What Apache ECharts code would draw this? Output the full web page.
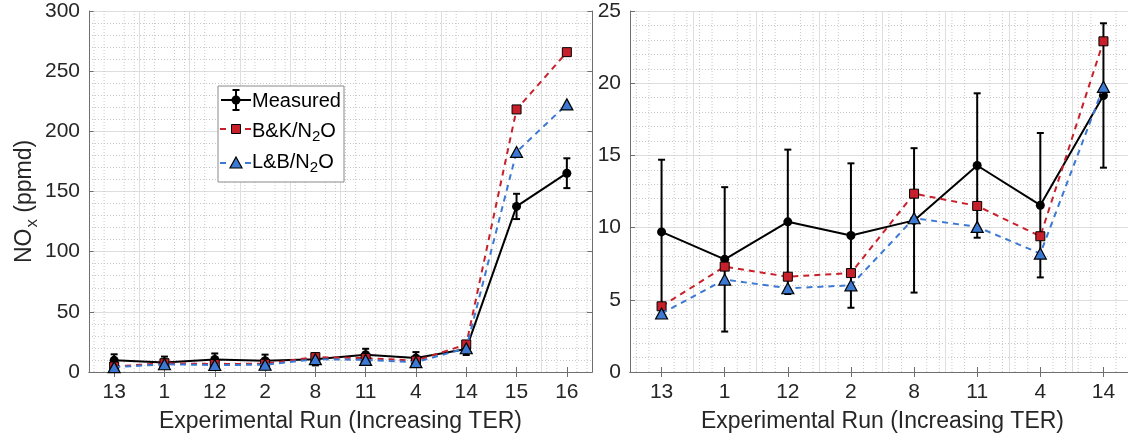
<!DOCTYPE html>
<html>
<head>
<meta charset="utf-8">
<script src="https://cdn.jsdelivr.net/npm/echarts@6/dist/echarts.min.js"></script>
<style>
  html, body { margin: 0; padding: 0; background: #fff; }
  #chart { width: 1128px; height: 440px; }
</style>
</head>
<body>
<div id="chart"></div>
<script>
// Experimental runs, ordered by increasing TER
const runs = ['13', '1', '12', '2', '8', '11', '4', '14', '15', '16'];
// NOx (ppmd) measured, with its uncertainty
const measured    = [9.7, 7.8, 10.4, 9.45, 10.5, 14.3, 11.55, 19.15, 137.6, 165.2];
const measuredErr = [5.0, 5.0, 5.0, 5.0, 5.0, 5.0, 5.0, 5.0, 10.5, 12.4];
// NOx predicted by the two N2O-route mechanisms
const bkN2O = [4.55, 7.3, 6.6, 6.85, 12.35, 11.5, 9.4, 22.9, 218.2, 265.8];
const lbN2O = [4.05, 6.4, 5.8, 6.0, 10.65, 10.05, 8.2, 19.75, 182.9, 222.4];
// right panel: close-up of the low-TER runs
const zoomCount = 8;
// y-axis ranges [max, step] for each panel
const leftY = [300, 50];
const rightY = [25, 5];

const FONT = '"Liberation Sans", Arial, Helvetica, sans-serif';
const RED = '#c8202a';
const BLUE = '#3b79d2';
const AXIS = '#6f6f6f';
const TEXT = '#262626';
const MAJOR = '#dedede';
const MINOR = '#c9c9c9';

const chart = echarts.init(document.getElementById('chart'), null, { renderer: 'canvas' });

const panels = [
  { left: 89, width: 503, n: runs.length, y: leftY },
  { left: 630, width: 505, n: zoomCount, y: rightY }
];

const grids = panels.map(p => ({
  left: p.left, top: 11, width: p.width, height: 361, outerBoundsMode: 'none'
}));

const xAxes = [];
const yAxes = [];
panels.forEach((p, gi) => {
  const cats = runs.slice(0, p.n);
  xAxes.push({
    type: 'category', gridIndex: gi, data: cats, position: 'bottom', boundaryGap: true,
    axisLine: { show: true, lineStyle: { color: AXIS, width: 1 } },
    axisTick: { show: true, inside: true, alignWithLabel: true, length: 5, lineStyle: { color: AXIS } },
    axisLabel: { fontSize: 21, color: TEXT, fontFamily: FONT, margin: 10 },
    splitLine: { show: true, lineStyle: { color: MAJOR, width: 1 } },
    name: 'Experimental Run (Increasing TER)', nameLocation: 'middle', nameGap: 38,
    nameTextStyle: { fontSize: 23, color: TEXT, fontFamily: FONT }
  });
  xAxes.push({
    type: 'category', gridIndex: gi, data: cats, position: 'top', boundaryGap: true,
    axisLine: { show: true, lineStyle: { color: AXIS, width: 1 } },
    axisTick: { show: true, inside: true, alignWithLabel: true, length: 5, lineStyle: { color: AXIS } },
    axisLabel: { show: false }, splitLine: { show: false }
  });
  const yBase = {
    type: 'value', gridIndex: gi, min: 0, max: p.y[0], interval: p.y[1],
    axisLine: { show: true, lineStyle: { color: AXIS, width: 1 } },
    axisTick: { show: true, inside: true, length: 5, lineStyle: { color: AXIS } }
  };
  yAxes.push(Object.assign({}, yBase, {
    position: 'left',
    axisLabel: { fontSize: 21, color: TEXT, fontFamily: FONT, margin: 9 },
    splitLine: { show: true, lineStyle: { color: MAJOR, width: 1 } },
    minorTick: { show: false, splitNumber: 5 },
    minorSplitLine: { show: true, lineStyle: { color: MINOR, width: 1, type: [1, 2] } },
    name: gi === 0 ? '{a|NO}{s|x}{a| (ppmd)}' : '',
    nameLocation: 'middle', nameRotate: 90, nameGap: 48,
    nameTextStyle: {
      color: TEXT, fontFamily: FONT, fontSize: 23, padding: [0, 20, 0, 0],
      rich: {
        a: { fontSize: 23, color: TEXT, fontFamily: FONT },
        s: { fontSize: 17, color: TEXT, fontFamily: FONT, padding: [16, 0, 0, 1] }
      }
    }
  }));
  yAxes.push(Object.assign({}, yBase, {
    position: 'right', axisLabel: { show: false }, splitLine: { show: false }
  }));
});

// dotted minor grid between categories (fifths of a category band)
function minorGridItem(params, api) {
  const i = api.value(0);
  const yMax = api.value(1);
  const top = api.coord([i, yMax]);
  const bot = api.coord([i, 0]);
  const band = api.size([1, 0])[0];
  const children = [-0.4, -0.2, 0.2, 0.4].map(f => ({
    type: 'line',
    shape: { x1: top[0] + f * band, y1: top[1], x2: top[0] + f * band, y2: bot[1] },
    style: { stroke: MINOR, lineWidth: 1, lineDash: [1, 2] }
  }));
  return { type: 'group', children };
}

// vertical error bar with caps
function errorBarItem(params, api) {
  const i = api.value(0);
  const v = api.value(1);
  const e = api.value(2);
  const top = api.coord([i, v + e]);
  const bot = api.coord([i, v - e]);
  const cap = 3.5;
  const st = { stroke: '#000', lineWidth: 2 };
  return {
    type: 'group',
    children: [
      { type: 'line', shape: { x1: top[0], y1: top[1], x2: bot[0], y2: bot[1] }, style: st },
      { type: 'line', shape: { x1: top[0] - cap, y1: top[1], x2: top[0] + cap, y2: top[1] }, style: st },
      { type: 'line', shape: { x1: bot[0] - cap, y1: bot[1], x2: bot[0] + cap, y2: bot[1] }, style: st }
    ]
  };
}

const series = [];
panels.forEach((p, gi) => {
  const xi = gi * 2, yi = gi * 2;
  const idx = runs.slice(0, p.n).map((r, i) => i);
  series.push({
    type: 'custom', xAxisIndex: xi, yAxisIndex: yi, silent: true, z: 1,
    renderItem: minorGridItem,
    data: idx.map(i => [i, p.y[0]])
  });
  series.push({
    name: 'Measured', type: 'line', xAxisIndex: xi, yAxisIndex: yi, z: 3,
    data: measured.slice(0, p.n),
    symbol: 'circle', symbolSize: 9,
    lineStyle: { color: '#000', width: 2 },
    itemStyle: { color: '#000' }
  });
  series.push({
    type: 'custom', xAxisIndex: xi, yAxisIndex: yi, z: 3, silent: true,
    renderItem: errorBarItem,
    data: idx.map(i => [i, measured[i], measuredErr[i]])
  });
  series.push({
    name: 'B&K/N2O', type: 'line', xAxisIndex: xi, yAxisIndex: yi, z: 4,
    data: bkN2O.slice(0, p.n),
    symbol: 'rect', symbolSize: 9,
    lineStyle: { color: RED, width: 2, type: [6, 5] },
    itemStyle: { color: RED, borderColor: '#000', borderWidth: 1 }
  });
  series.push({
    name: 'L&B/N2O', type: 'line', xAxisIndex: xi, yAxisIndex: yi, z: 5,
    data: lbN2O.slice(0, p.n),
    symbol: 'triangle', symbolSize: [12, 11],
    lineStyle: { color: BLUE, width: 2, type: [6, 5] },
    itemStyle: { color: BLUE, borderColor: '#000', borderWidth: 1.2 }
  });
});

// legend box in the left panel
const legendRich = {
  a: { fontSize: 20, color: '#000', fontFamily: FONT },
  s: { fontSize: 15, color: '#000', fontFamily: FONT, padding: [12, 0, 0, 0] }
};
const lg = { x: 218, y: 86, w: 126, h: 96, icon: 236, text: 252 };
const graphic = [
  { type: 'rect', shape: { x: lg.x, y: lg.y, width: lg.w, height: lg.h },
    style: { fill: '#fff', stroke: '#8a8a8a', lineWidth: 1 }, z: 100 },
  // Measured
  { type: 'line', shape: { x1: 221, y1: 100, x2: 251, y2: 100 }, style: { stroke: '#000', lineWidth: 2 }, z: 101 },
  { type: 'line', shape: { x1: lg.icon, y1: 90, x2: lg.icon, y2: 110 }, style: { stroke: '#000', lineWidth: 2 }, z: 101 },
  { type: 'line', shape: { x1: lg.icon - 3.5, y1: 90, x2: lg.icon + 3.5, y2: 90 }, style: { stroke: '#000', lineWidth: 2 }, z: 101 },
  { type: 'line', shape: { x1: lg.icon - 3.5, y1: 110, x2: lg.icon + 3.5, y2: 110 }, style: { stroke: '#000', lineWidth: 2 }, z: 101 },
  { type: 'circle', shape: { cx: lg.icon, cy: 100, r: 4.5 }, style: { fill: '#000' }, z: 102 },
  { type: 'text', x: lg.text, y: 101, style: { text: 'Measured', font: '20px ' + FONT, fill: '#000', verticalAlign: 'middle' }, z: 102 },
  // B&K/N2O
  { type: 'line', shape: { x1: 220, y1: 129, x2: 226, y2: 129 }, style: { stroke: RED, lineWidth: 2 }, z: 101 },
  { type: 'line', shape: { x1: 245, y1: 129, x2: 251, y2: 129 }, style: { stroke: RED, lineWidth: 2 }, z: 101 },
  { type: 'rect', shape: { x: lg.icon - 4.5, y: 124.5, width: 9, height: 9 }, style: { fill: RED, stroke: '#000', lineWidth: 1 }, z: 102 },
  { type: 'text', x: lg.text, y: 131, style: { text: '{a|B&K/N}{s|2}{a|O}', rich: legendRich, verticalAlign: 'middle' }, z: 102 },
  // L&B/N2O
  { type: 'line', shape: { x1: 220, y1: 163, x2: 226, y2: 163 }, style: { stroke: BLUE, lineWidth: 2 }, z: 101 },
  { type: 'line', shape: { x1: 245, y1: 163, x2: 251, y2: 163 }, style: { stroke: BLUE, lineWidth: 2 }, z: 101 },
  { type: 'polygon', shape: { points: [[lg.icon, 157], [lg.icon + 6, 168], [lg.icon - 6, 168]] }, style: { fill: BLUE, stroke: '#000', lineWidth: 1.2 }, z: 102 },
  { type: 'text', x: lg.text, y: 162, style: { text: '{a|L&B/N}{s|2}{a|O}', rich: legendRich, verticalAlign: 'middle' }, z: 102 }
];

chart.setOption({
  animation: false,
  backgroundColor: '#fff',
  textStyle: { fontFamily: FONT },
  grid: grids,
  xAxis: xAxes,
  yAxis: yAxes,
  series: series,
  graphic: graphic
});
</script>
</body>
</html>
